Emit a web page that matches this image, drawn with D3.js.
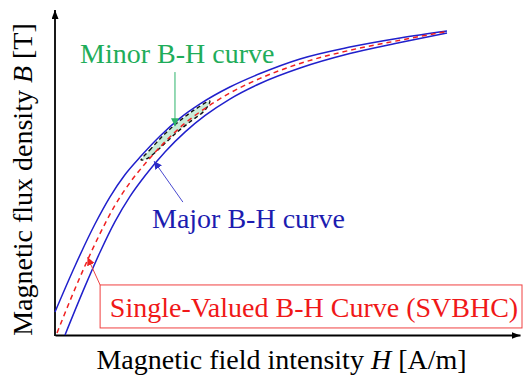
<!DOCTYPE html>
<html>
<head>
<meta charset="utf-8">
<script src="https://cdn.jsdelivr.net/npm/d3@7"></script>
</head>
<body style="margin:0">
<svg id="chart" width="525" height="378"></svg>
<script>
// B-H curves, H in A/m (arbitrary), B in T (arbitrary)
const majorUpperH = [0, 43, 86, 118, 150, 183, 226, 269, 312, 376, 441, 527, 634, 742, 843];
const majorUpperB = [0.142, 0.425, 0.683, 0.849, 0.985, 1.095, 1.225, 1.335, 1.422, 1.526, 1.609, 1.699, 1.772, 1.828, 1.871];

const majorLowerH = [21.5, 64.5, 97, 129, 161, 194, 237, 280, 323, 376, 441, 527, 634, 742, 843];
const majorLowerB = [0, 0.299, 0.511, 0.698, 0.852, 0.982, 1.128, 1.250, 1.351, 1.452, 1.548, 1.643, 1.732, 1.800, 1.859];

const svbhcH = [4.3, 32, 64.5, 97, 129, 161, 194, 237, 280, 323, 376, 441, 527, 634, 742, 843];
const svbhcB = [0.012, 0.209, 0.426, 0.625, 0.798, 0.937, 1.055, 1.190, 1.304, 1.395, 1.489, 1.579, 1.671, 1.752, 1.814, 1.868];

// minor loop, closed
const minorH = [185, 204, 237, 269, 301, 333, 323, 290, 258, 226, 200];
const minorB = [1.077, 1.139, 1.240, 1.320, 1.388, 1.440, 1.385, 1.311, 1.237, 1.151, 1.089];

const xLabel = "Magnetic field intensity ";
const yLabel = "Magnetic flux density ";

const width = 525, height = 378;
const margin = {top: 10, right: 5, bottom: 43, left: 55};

const svg = d3.select("#chart");

const x = d3.scaleLinear().domain([0, 1000]).range([margin.left, width - margin.right]);
const y = d3.scaleLinear().domain([0, 2]).range([height - margin.bottom, margin.top]);

const zip = (hs, bs) => hs.map((h, i) => ({h: h, b: bs[i]}));

// arrow markers
const defs = svg.append("defs");
function marker(id, color, len, wid) {
    defs.append("marker")
        .attr("id", id)
        .attr("markerUnits", "userSpaceOnUse")
        .attr("viewBox", `0 ${-wid/2} ${len} ${wid}`)
        .attr("refX", len).attr("refY", 0)
        .attr("markerWidth", len).attr("markerHeight", wid)
        .attr("orient", "auto")
        .append("path")
        .attr("d", `M0,${-wid/2}L${len},0L0,${wid/2}Z`)
        .attr("fill", color);
}
marker("arr-k", "#000", 9, 7);
marker("arr-g", "#2db36a", 8, 8);
marker("arr-b", "#2a2ac8", 8, 8);
marker("arr-r", "#ee2222", 8, 8);

// axes without ticks
const xaxis = d3.axisBottom(x).ticks(0).tickSizeOuter(0);
const yaxis = d3.axisLeft(y).ticks(0).tickSizeOuter(0);

svg.append("g")
    .attr("transform", `translate(0, ${y(0)})`)
    .call(xaxis)
    .select(".domain")
    .attr("stroke", "#000").attr("stroke-width", 1.8)
    .attr("marker-end", "url(#arr-k)");

svg.append("g")
    .attr("transform", `translate(${x(0)}, 0)`)
    .call(yaxis)
    .select(".domain")
    .attr("d", `M0,${y(0) + 1}V${y(2)}`)
    .attr("stroke", "#000").attr("stroke-width", 1.8)
    .attr("marker-end", "url(#arr-k)");

const line = d3.line()
    .x(d => x(d.h))
    .y(d => y(d.b))
    .curve(d3.curveMonotoneX);

// minor loop
svg.append("path")
    .datum(zip(minorH, minorB))
    .attr("d", d3.line().x(d => x(d.h)).y(d => y(d.b)).curve(d3.curveCatmullRomClosed))
    .attr("fill", "#c8ecd6")
    .attr("stroke", "#111")
    .attr("stroke-width", 1.4)
    .attr("stroke-dasharray", "4,3");

// major loop branches
[zip(majorUpperH, majorUpperB), zip(majorLowerH, majorLowerB)].forEach(d => {
    svg.append("path")
        .datum(d)
        .attr("d", line)
        .attr("fill", "none")
        .attr("stroke", "#2020cc")
        .attr("stroke-width", 1.5);
});

// single valued curve
svg.append("path")
    .datum(zip(svbhcH, svbhcB))
    .attr("d", line)
    .attr("fill", "none")
    .attr("stroke", "#f02020")
    .attr("stroke-width", 1.5)
    .attr("stroke-dasharray", "5,4");

// annotation arrows
function arrow(h1, b1, h2, b2, color, id) {
    svg.append("line")
        .attr("x1", x(h1)).attr("y1", y(b1))
        .attr("x2", x(h2)).attr("y2", y(b2))
        .attr("stroke", color).attr("stroke-width", 1)
        .attr("marker-end", `url(#${id})`);
}
arrow(258, 1.618, 258, 1.285, "#2db36a", "arr-g");
arrow(275, 0.818, 213, 1.07, "#4a4ad0", "arr-b");
arrow(97, 0.308, 70, 0.478, "#ee4444", "arr-r");

// SVBHC label box
svg.append("rect")
    .attr("x", x(97)).attr("y", y(0.308))
    .attr("width", 522 - x(97)).attr("height", 43)
    .attr("fill", "none")
    .attr("stroke", "#f04040")
    .attr("stroke-width", 1);

// text labels
const labels = [
    {str: "Single-Valued B-H Curve (SVBHC)", tx: x(118), ty: 317, color: "#f01818"},
    {str: "Minor B-H curve", tx: 80, ty: 63, color: "#1fad5a"},
    {str: "Major B-H curve", tx: 152, ty: 228, color: "#1c1cb0"}
];
svg.selectAll("text.lbl").data(labels).join("text")
    .attr("class", "lbl")
    .attr("x", d => d.tx).attr("y", d => d.ty)
    .attr("font-size", 28)
    .style("font-family", "'Liberation Serif'")
    .attr("fill", d => d.color)
    .text(d => d.str);

// axis titles
const xt = svg.append("text")
    .attr("x", (x(0) + x(1000)) / 2 - 6).attr("y", 369)
    .attr("font-size", 28)
    .style("font-family", "'Liberation Serif'")
    .attr("text-anchor", "middle");
xt.append("tspan").text(xLabel);
xt.append("tspan").style("font-style", "italic").text("H");
xt.append("tspan").text(" [A/m]");

const yt = svg.append("text")
    .attr("transform", `translate(32, ${(y(0) + y(2)) / 2 + 7}) rotate(-90)`)
    .attr("font-size", 28)
    .style("font-family", "'Liberation Serif'")
    .attr("text-anchor", "middle");
yt.append("tspan").text(yLabel);
yt.append("tspan").style("font-style", "italic").text("B");
yt.append("tspan").text(" [T]");
</script>
</body>
</html>
